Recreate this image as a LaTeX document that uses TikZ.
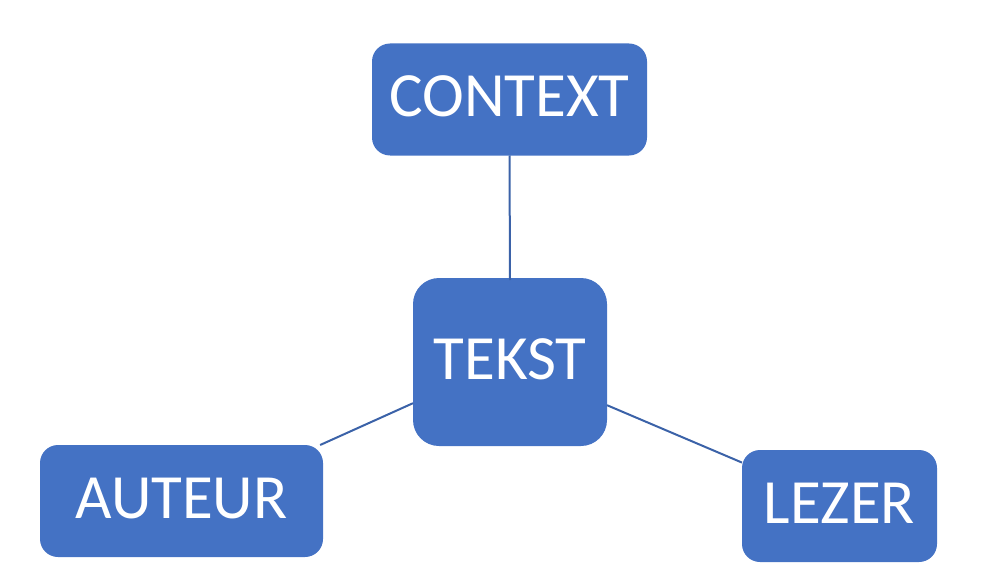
\documentclass[tikz,border=0pt]{standalone}
\usepackage{fontspec}
\setmainfont{Carlito}
\definecolor{boxblue}{HTML}{4472C4}
\definecolor{linkblue}{HTML}{3B62A8}
\begin{document}
\begin{tikzpicture}[x=1pt,y=-1pt,
  blk/.style={rectangle, fill=boxblue, text=white, inner sep=0pt, outer sep=0pt,
    rounded corners=18pt, font=\fontsize{63}{63}\selectfont, text depth=6pt},
  link/.style={draw=linkblue, line width=2pt}]
\useasboundingbox (0,0) rectangle (1000,583);
\node[blk, minimum width=275pt, minimum height=112pt] (context) at (509.5,99.5) {CONTEXT};
\node[blk, minimum width=194pt, minimum height=168pt, rounded corners=26pt] (tekst) at (510,362) {TEKST};
\node[blk, minimum width=283pt, minimum height=112pt] (auteur) at (181.5,501) {AUTEUR};
\node[blk, minimum width=195pt, minimum height=112pt] (lezer) at (839.5,506) {LEZER};
\draw[link] (context.south) -- ([yshift=-2pt]tekst.north);
\draw[link] (tekst.203) -- (auteur.22);
\draw[link] (tekst.336) -- (lezer.156);
\end{tikzpicture}
\end{document}
